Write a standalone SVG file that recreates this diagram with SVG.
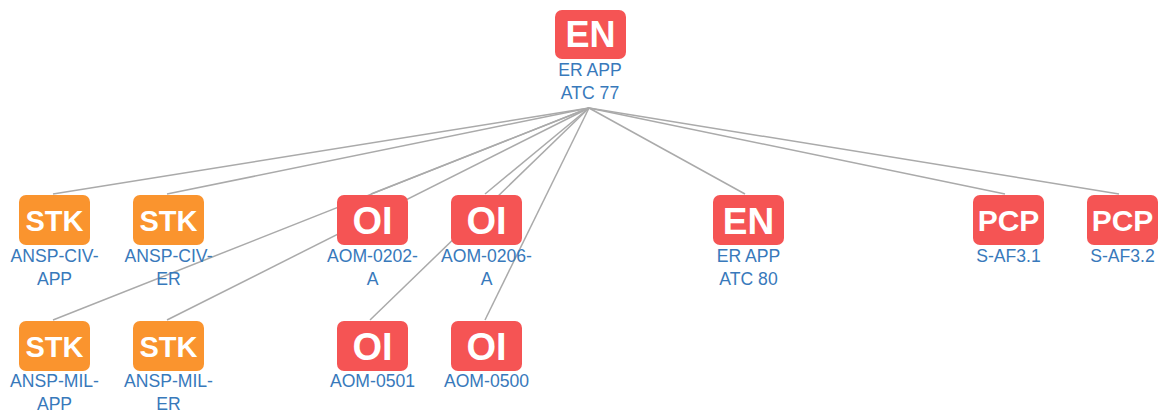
<svg xmlns="http://www.w3.org/2000/svg" width="1161" height="414" viewBox="0 0 1161 414">
<style>
.edge{stroke:#aaaaaa;stroke-width:1.5;fill:none}
.red{fill:#f55454}
.orange{fill:#fa942e}
.icon{font-family:"Liberation Sans",Arial,sans-serif;font-weight:bold;fill:#ffffff;text-anchor:middle}
.lbl{font-family:"Liberation Sans",Arial,sans-serif;font-size:17.6px;fill:#3879bb;text-anchor:middle}
</style>
<rect width="1161" height="414" fill="#ffffff"/>
<g id="connectors">
<line class="edge" x1="589" y1="108" x2="53" y2="194"/>
<line class="edge" x1="589" y1="108" x2="167" y2="194"/>
<line class="edge" x1="589" y1="108" x2="53" y2="320"/>
<line class="edge" x1="589" y1="108" x2="167" y2="320"/>
<line class="edge" x1="589" y1="108" x2="371" y2="194"/>
<line class="edge" x1="589" y1="108" x2="485" y2="194"/>
<line class="edge" x1="589" y1="108" x2="370" y2="320"/>
<line class="edge" x1="589" y1="108" x2="485" y2="320"/>
<line class="edge" x1="589" y1="108" x2="745" y2="194"/>
<line class="edge" x1="589" y1="108" x2="1005" y2="194"/>
<line class="edge" x1="589" y1="108" x2="1119" y2="194"/>
</g>
<g id="node-en-atc77">
<rect class="red" x="555" y="10" width="71" height="49" rx="7"/>
<text class="icon" x="590.5" y="47" font-size="36">EN</text>
<text class="lbl" x="590" y="76">ER APP</text>
<text class="lbl" x="590" y="99">ATC 77</text>
</g>
<g id="node-ansp-civ-app">
<rect class="orange" x="19" y="195" width="71" height="50" rx="7"/>
<text class="icon" x="54.5" y="230.5" font-size="29">STK</text>
<text class="lbl" x="54.5" y="262">ANSP-CIV-</text>
<text class="lbl" x="54.5" y="285">APP</text>
</g>
<g id="node-ansp-civ-er">
<rect class="orange" x="133" y="195" width="71" height="50" rx="7"/>
<text class="icon" x="168.5" y="230.5" font-size="29">STK</text>
<text class="lbl" x="168.5" y="262">ANSP-CIV-</text>
<text class="lbl" x="168.5" y="285">ER</text>
</g>
<g id="node-aom-0202-a">
<rect class="red" x="337" y="195" width="71" height="50" rx="7"/>
<text class="icon" x="372.5" y="233.5" font-size="38">OI</text>
<text class="lbl" x="372.5" y="262">AOM-0202-</text>
<text class="lbl" x="372.5" y="285">A</text>
</g>
<g id="node-aom-0206-a">
<rect class="red" x="451" y="195" width="71" height="50" rx="7"/>
<text class="icon" x="486.5" y="233.5" font-size="38">OI</text>
<text class="lbl" x="486.5" y="262">AOM-0206-</text>
<text class="lbl" x="486.5" y="285">A</text>
</g>
<g id="node-en-atc80">
<rect class="red" x="713" y="195" width="71" height="50" rx="7"/>
<text class="icon" x="748.5" y="233.5" font-size="37">EN</text>
<text class="lbl" x="748.5" y="262">ER APP</text>
<text class="lbl" x="748.5" y="285">ATC 80</text>
</g>
<g id="node-s-af3-1">
<rect class="red" x="973" y="195" width="71" height="50" rx="7"/>
<text class="icon" x="1008.5" y="231" font-size="30">PCP</text>
<text class="lbl" x="1008.5" y="262">S-AF3.1</text>
</g>
<g id="node-s-af3-2">
<rect class="red" x="1087" y="195" width="71" height="50" rx="7"/>
<text class="icon" x="1122.5" y="231" font-size="30">PCP</text>
<text class="lbl" x="1122.5" y="262">S-AF3.2</text>
</g>
<g id="node-ansp-mil-app">
<rect class="orange" x="19" y="321" width="71" height="50" rx="7"/>
<text class="icon" x="54.5" y="356.5" font-size="29">STK</text>
<text class="lbl" x="54.5" y="387">ANSP-MIL-</text>
<text class="lbl" x="54.5" y="410">APP</text>
</g>
<g id="node-ansp-mil-er">
<rect class="orange" x="133" y="321" width="71" height="50" rx="7"/>
<text class="icon" x="168.5" y="356.5" font-size="29">STK</text>
<text class="lbl" x="168.5" y="387">ANSP-MIL-</text>
<text class="lbl" x="168.5" y="410">ER</text>
</g>
<g id="node-aom-0501">
<rect class="red" x="337" y="321" width="71" height="50" rx="7"/>
<text class="icon" x="372.5" y="359.5" font-size="38">OI</text>
<text class="lbl" x="372.5" y="387">AOM-0501</text>
</g>
<g id="node-aom-0500">
<rect class="red" x="451" y="321" width="71" height="50" rx="7"/>
<text class="icon" x="486.5" y="359.5" font-size="38">OI</text>
<text class="lbl" x="486.5" y="387">AOM-0500</text>
</g>
</svg>
